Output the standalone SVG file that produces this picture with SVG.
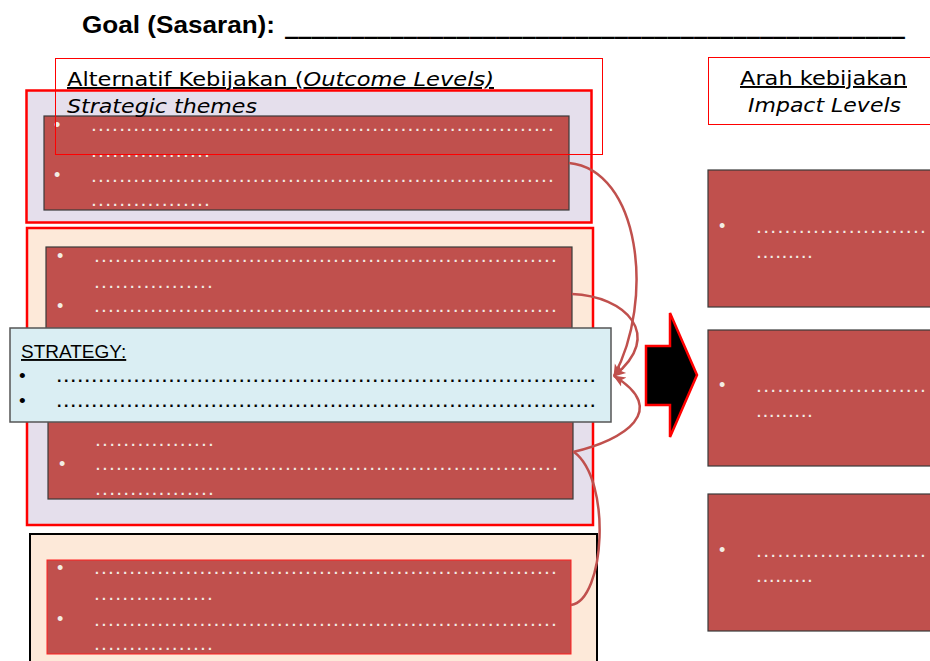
<svg xmlns="http://www.w3.org/2000/svg" width="930" height="661" viewBox="0 0 930 661">
<style>
.title{font-family:"Liberation Sans",Arial,sans-serif;font-weight:bold;font-size:24px;fill:#000}
.hdr{font-family:"DejaVu Sans","Verdana",sans-serif;font-size:19.5px;fill:#000}
.it{font-style:italic}
.ul{text-decoration:underline}
.hbox{fill:none;stroke:#FF0000;stroke-width:1}
.grp{stroke:#FF0000;stroke-width:2.5}
.lav{fill:#E5DFEC}
.pch{fill:#FDE9D9}
.rbox{fill:#C0504D;stroke:#3A3A3A;stroke-width:1.2}
.wd{font-family:"Liberation Sans",Arial,sans-serif;font-size:14px;font-weight:bold;fill:#F2EDE4}
.bul{font-family:"Liberation Sans",Arial,sans-serif;font-size:18px;fill:#F2EDE4}
.bd{font-family:"Liberation Sans",Arial,sans-serif;font-size:16px;font-weight:bold;fill:#000}
.bb{font-family:"Liberation Sans",Arial,sans-serif;font-size:19px;fill:#000}
.strat{font-family:"Liberation Sans",Arial,sans-serif;font-size:19px;fill:#000}
.con{fill:none;stroke:#C0504D;stroke-width:2.5}
</style>
<defs>
<marker id="ah" viewBox="0 0 12 10" refX="11" refY="5" markerWidth="5" markerHeight="5" orient="auto" markerUnits="strokeWidth">
<path d="M0,0 L12,5 L0,10 L3,5 Z" fill="#C0504D"/>
</marker>
</defs>

<g id="title">
<text class="title" x="82" y="33"><tspan textLength="193" lengthAdjust="spacingAndGlyphs">Goal (Sasaran):</tspan><tspan x="285" font-family="DejaVu Sans, sans-serif" textLength="620" lengthAdjust="spacingAndGlyphs">_______________________________________________</tspan></text>
</g>

<!-- Group 1 -->
<g id="group1">
<rect class="grp lav" x="26.5" y="90.5" width="565" height="132"/>
<rect class="rbox" x="44" y="116" width="525" height="94"/>
<text class="bul" x="54" y="131">•</text>
<text class="wd" x="92" y="131" textLength="461" lengthAdjust="spacing">..................................................................</text>
<text class="wd" x="92" y="157" textLength="117" lengthAdjust="spacing">.................</text>
<text class="bul" x="54" y="181">•</text>
<text class="wd" x="92" y="182" textLength="461" lengthAdjust="spacing">..................................................................</text>
<text class="wd" x="92" y="206" textLength="117" lengthAdjust="spacing">.................</text>
</g>

<g id="header-left">
<rect class="hbox" x="55.5" y="58.5" width="547" height="96"/>
<text class="hdr" x="67" y="86" textLength="427" lengthAdjust="spacingAndGlyphs"><tspan class="ul">Alternatif Kebijakan (<tspan class="it">Outcome Levels)</tspan></tspan></text>
<text class="hdr it" x="67" y="113" textLength="190" lengthAdjust="spacingAndGlyphs">Strategic themes</text>
</g>

<!-- Group 2 / 3 -->
<g id="group2">
<rect class="pch" x="27" y="228" width="566" height="150"/>
<rect class="lav" x="27" y="378" width="566" height="147"/>
<rect x="27" y="228" width="566" height="297" fill="none" stroke="#FF0000" stroke-width="2.5"/>
<rect class="rbox" x="46" y="247" width="526" height="100"/>
<text class="bul" x="57" y="262">•</text>
<text class="wd" x="95" y="262" textLength="461" lengthAdjust="spacing">..................................................................</text>
<text class="wd" x="95" y="288" textLength="117" lengthAdjust="spacing">.................</text>
<text class="bul" x="57" y="312">•</text>
<text class="wd" x="95" y="312" textLength="461" lengthAdjust="spacing">..................................................................</text>
</g>

<g id="group3">
<rect class="rbox" x="48" y="400" width="525" height="99"/>
<text class="wd" x="96" y="446" textLength="117" lengthAdjust="spacing">.................</text>
<text class="bul" x="59" y="470">•</text>
<text class="wd" x="96" y="470" textLength="461" lengthAdjust="spacing">..................................................................</text>
<text class="wd" x="96" y="495" textLength="117" lengthAdjust="spacing">.................</text>
</g>

<!-- Group 4 -->
<g id="group4">
<rect x="30" y="534" width="567" height="140" fill="#FDE9D9" stroke="#000" stroke-width="2"/>
<rect x="47" y="560" width="524" height="94" fill="#C0504D" stroke="#FF2020" stroke-width="1"/>
<text class="bul" x="57" y="574">•</text>
<text class="wd" x="95" y="574" textLength="461" lengthAdjust="spacing">..................................................................</text>
<text class="wd" x="95" y="600" textLength="117" lengthAdjust="spacing">.................</text>
<text class="bul" x="57" y="625">•</text>
<text class="wd" x="95" y="626" textLength="461" lengthAdjust="spacing">..................................................................</text>
<text class="wd" x="95" y="650" textLength="117" lengthAdjust="spacing">.................</text>
</g>

<!-- Strategy -->
<g id="strategy">
<rect x="10" y="328" width="601" height="94" fill="#DAEEF3" stroke="#555" stroke-width="1.5"/>
<text class="strat ul" x="21" y="358">STRATEGY:</text>
<text class="bb" x="19" y="382">•</text>
<text class="bd" x="57" y="382" textLength="538" lengthAdjust="spacing">.............................................................................</text>
<text class="bb" x="19" y="407">•</text>
<text class="bd" x="57" y="407" textLength="538" lengthAdjust="spacing">.............................................................................</text>
</g>

<!-- Connectors -->
<g id="connectors">
<path class="con" d="M569,163 C640,170 655,300 614,376" marker-end="url(#ah)"/>
<path class="con" d="M572,294 C625,296 665,335 614,376" marker-end="url(#ah)"/>
<path class="con" d="M573,452 C625,440 670,410 614,376" marker-end="url(#ah)"/>
<path class="con" d="M571,605 C605,600 612,480 574,452"/>
</g>

<!-- Block arrow -->
<g id="block-arrow">
<path d="M646,346 L670,346 L670,313 L697,375 L670,437 L670,405 L646,405 Z" fill="#000" stroke="#FF0000" stroke-width="2.5" stroke-linejoin="miter"/>
</g>

<!-- Right side -->
<g id="header-right">
<rect class="hbox" x="708.5" y="57.5" width="240" height="67"/>
<text class="hdr ul" x="740" y="85" textLength="167" lengthAdjust="spacingAndGlyphs">Arah kebijakan</text>
<text class="hdr it" x="748" y="112" textLength="153" lengthAdjust="spacingAndGlyphs">Impact Levels</text>
</g>

<g id="impact1">
<rect class="rbox" x="708" y="170" width="240" height="137"/>
<text class="bul" x="719" y="232">•</text>
<text class="wd" x="757" y="233" textLength="168" lengthAdjust="spacing">........................</text>
<text class="wd" x="757" y="258" textLength="55" lengthAdjust="spacing">.........</text>
</g>
<g id="impact2">
<rect class="rbox" x="708" y="330" width="240" height="136"/>
<text class="bul" x="719" y="391">•</text>
<text class="wd" x="757" y="392" textLength="168" lengthAdjust="spacing">........................</text>
<text class="wd" x="757" y="417" textLength="55" lengthAdjust="spacing">.........</text>
</g>
<g id="impact3">
<rect class="rbox" x="708" y="494" width="240" height="137"/>
<text class="bul" x="719" y="556">•</text>
<text class="wd" x="757" y="557" textLength="168" lengthAdjust="spacing">........................</text>
<text class="wd" x="757" y="582" textLength="55" lengthAdjust="spacing">.........</text>
</g>
</svg>
